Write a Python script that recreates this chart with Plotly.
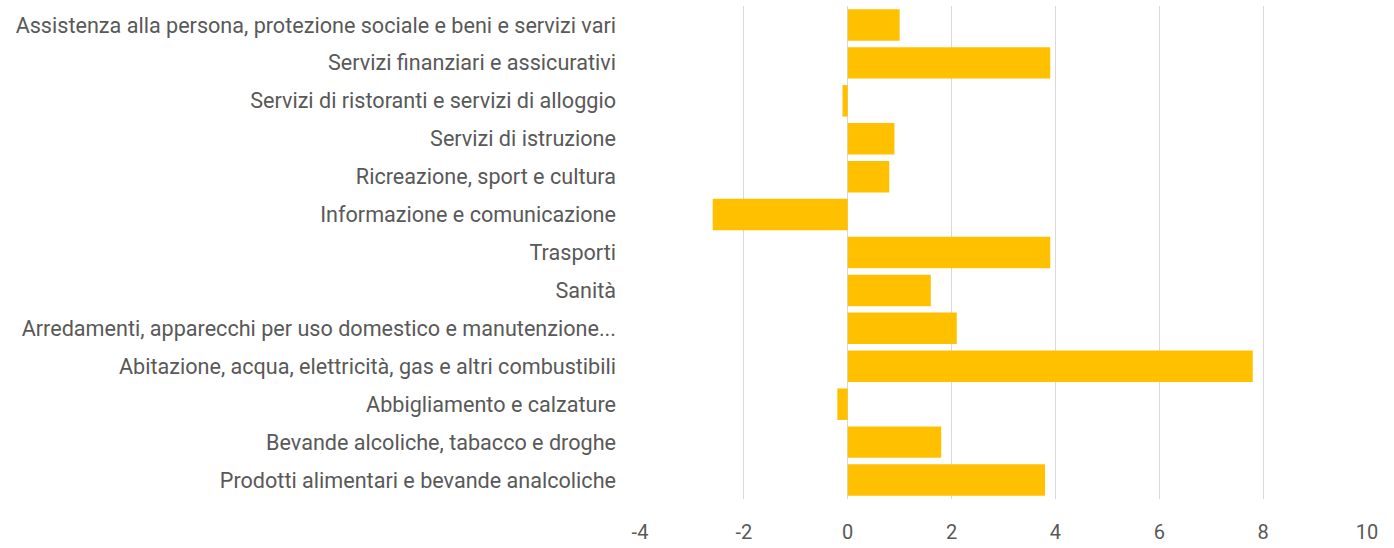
import plotly.graph_objects as go

categories = [
    "Assistenza alla persona, protezione sociale e beni e servizi vari",
    "Servizi finanziari e assicurativi",
    "Servizi di ristoranti e servizi di alloggio",
    "Servizi di istruzione",
    "Ricreazione, sport e cultura",
    "Informazione e comunicazione",
    "Trasporti",
    "Sanità",
    "Arredamenti, apparecchi per uso domestico e manutenzione...",
    "Abitazione, acqua, elettricità, gas e altri combustibili",
    "Abbigliamento e calzature",
    "Bevande alcoliche, tabacco e droghe",
    "Prodotti alimentari e bevande analcoliche",
]
values = [1.0, 3.9, -0.1, 0.9, 0.8, -2.6, 3.9, 1.6, 2.1, 7.8, -0.2, 1.8, 3.8]
x_ticks = [-4, -2, 0, 2, 4, 6, 8, 10]

font_family = "Roboto, sans-serif"

fig = go.Figure(
    go.Bar(
        x=values,
        y=categories,
        orientation="h",
        marker=dict(color="#FFC000", line=dict(width=0)),
        hoverinfo="x+y",
    )
)

fig.update_layout(
    width=1394,
    height=548,
    margin=dict(l=640, r=27, t=6, b=49),
    paper_bgcolor="white",
    plot_bgcolor="white",
    bargap=0.17,
    showlegend=False,
    font=dict(family=font_family, size=22, color="#595959"),
)

fig.update_xaxes(
    range=[-4, 10],
    tickvals=x_ticks,
    ticktext=[str(t) for t in x_ticks],
    showgrid=True,
    gridcolor="#D9D9D9",
    gridwidth=1,
    zeroline=True,
    zerolinecolor="#D9D9D9",
    zerolinewidth=1,
    showline=False,
    ticks="",
    automargin=False,
    ticklabelstandoff=19,
    tickfont=dict(family=font_family, size=20, color="#595959"),
)

fig.update_yaxes(
    autorange="reversed",
    showgrid=False,
    showline=False,
    ticks="",
    automargin=False,
    ticklabelstandoff=23,
    tickfont=dict(family=font_family, size=21.6, color="#595959"),
)

fig.write_html("out.html")
